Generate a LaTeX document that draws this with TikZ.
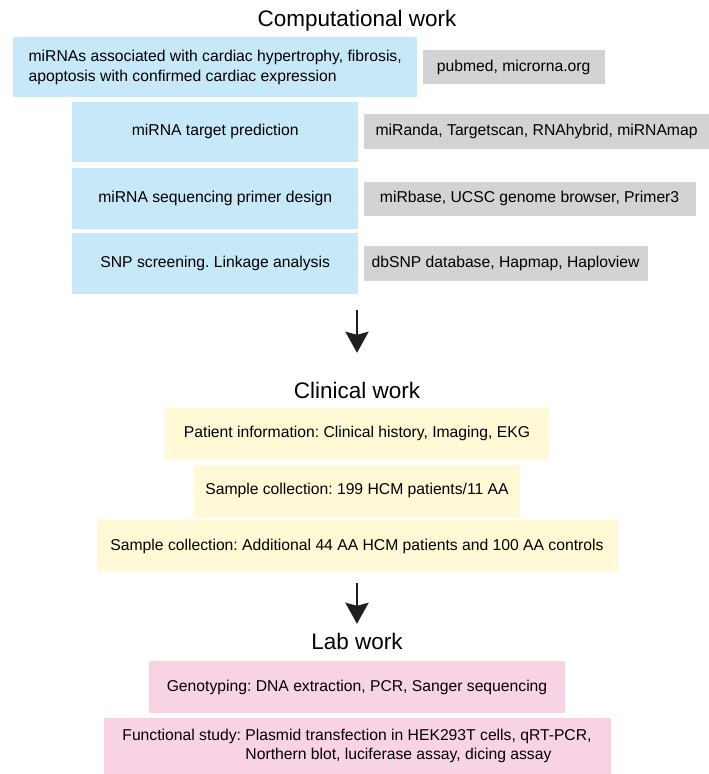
\documentclass[tikz,border=0pt]{standalone}
\usepackage{fontspec}
\setmainfont{Liberation Sans}
\usepackage{tikz}
\usetikzlibrary{arrows.meta, positioning, calc}
\frenchspacing
\definecolor{compblue}{HTML}{C6E8F8}
\definecolor{toolgray}{HTML}{D1D3D4}
\definecolor{clinyellow}{HTML}{FFF9D5}
\definecolor{labpink}{HTML}{F8D3E4}
\tikzstyle{arrow}=[-{Stealth[length=21pt, width=23pt, inset=3pt]}, line width=2.7pt, color=black!88]

\begin{document}
\begin{tikzpicture}[node distance=4pt and 5pt,
  sectitle/.style={font=\fontsize{22.5}{27}\selectfont, inner sep=0pt,
              text height=16pt, text depth=0pt, anchor=base},
  compbox/.style={rectangle, fill=compblue, minimum width=286pt, minimum height=61pt,
              inner sep=0pt, align=center, font=\fontsize{15.7}{19.5}\selectfont},
  toolbox/.style={rectangle, fill=toolgray, minimum height=35pt,
              inner sep=0pt, align=center, font=\fontsize{15.7}{19.5}\selectfont},
  clinbox/.style={rectangle, fill=clinyellow, minimum height=52pt,
              inner sep=0pt, align=center, font=\fontsize{15.7}{19.5}\selectfont},
  labbox/.style={rectangle, fill=labpink, minimum height=52pt,
              inner sep=0pt, align=center, font=\fontsize{15.7}{19.5}\selectfont}
]
\useasboundingbox (0,0) rectangle (709pt,-774pt);

% Computational work
\node[sectitle] (compwork) at (357pt,-26pt) {Computational work};
\node[compbox, anchor=north west, minimum width=404pt, minimum height=60pt, align=left]
  (mirnas) at (13pt,-37pt) {miRNAs associated with cardiac hypertrophy, fibrosis,\\apoptosis with confirmed cardiac expression};
\node[toolbox, right=5pt of mirnas, minimum width=182pt, minimum height=34pt] (pubmed) {pubmed, microrna.org};

\node[compbox, below=4pt of mirnas.south west, anchor=north west, xshift=59pt, minimum height=60pt] (target) {miRNA target prediction};
\node[toolbox, right=5pt of target, minimum width=346pt] (miranda) {miRanda, Targetscan, RNAhybrid, miRNAmap};

\node[compbox, below=6pt of target] (primer) {miRNA sequencing primer design};
\node[toolbox, right=5pt of primer, minimum width=332pt, minimum height=34pt] (mirbase) {miRbase, UCSC genome browser, Primer3};

\node[compbox, below=4pt of primer] (snp) {SNP screening. Linkage analysis};
\node[toolbox, right=5pt of snp, minimum width=284pt] (dbsnp) {dbSNP database, Hapmap, Haploview};

% Clinical work
\node[sectitle] (clinwork) at (357pt,-398pt) {Clinical work};
\node[clinbox, below=10pt of clinwork, minimum width=384pt, minimum height=51pt] (patient) {Patient information: Clinical history, Imaging, EKG};
\node[clinbox, below=5pt of patient, minimum width=326pt] (sample) {Sample collection: 199 HCM patients/11 AA};
\node[clinbox, below=3pt of sample, minimum width=521pt] (extra) {Sample collection: Additional 44 AA HCM patients and 100 AA controls};

% Lab work
\node[sectitle] (labwork) at (357pt,-649pt) {Lab work};
\node[labbox, below=12pt of labwork, minimum width=416pt] (geno) {Genotyping: DNA extraction, PCR, Sanger sequencing};
\node[labbox, below=4pt of geno, minimum width=507pt, minimum height=56pt, align=left] (func) {Functional study: Plasmid transfection in HEK293T cells, qRT-PCR,\\\phantom{Functional study: }Northern blot, luciferase assay, dicing assay};

\draw[arrow, shorten <=15pt, shorten >=29pt] (snp.south -| clinwork) -- (clinwork.north);
\draw[arrow, shorten <=11pt, shorten >=9pt] (extra.south -| labwork) -- (labwork.north);
\end{tikzpicture}
\end{document}
